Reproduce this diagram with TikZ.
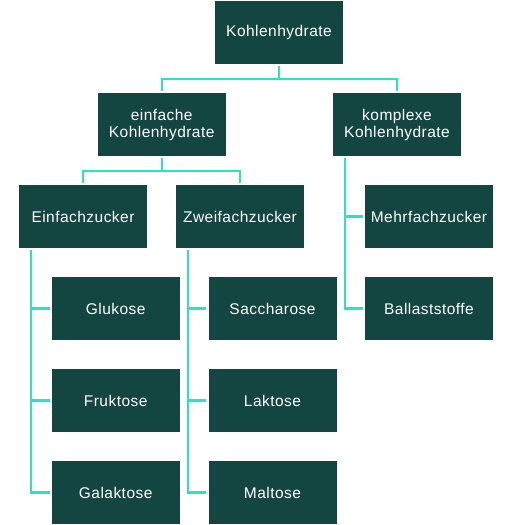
\documentclass[tikz,border=0pt]{standalone}
\usepackage{fontspec}
\setmainfont[LetterSpace=3]{Liberation Sans}
\usepackage{xcolor}
\usepackage{tikz}
\usetikzlibrary{positioning}
\definecolor{boxgreen}{HTML}{134640}
\definecolor{linkcyan}{HTML}{2AE3C7}
\tikzset{
  box/.style={fill=boxgreen, text=white, minimum width=128pt, minimum height=63pt,
    inner sep=0pt, align=center, font=\fontsize{15.5}{17}\selectfont},
  link/.style={linkcyan, line width=2.2pt, shorten <=2pt, shorten >=2pt},
  stub/.style={link, shorten <=-1pt}
}
\begin{document}
\begin{tikzpicture}[x=1pt,y=-1pt]
\def \rowgap {92}
\def \midrow {216.5}
\useasboundingbox (0,0) rectangle (510,525);
\node[box] (root) at (279,32.5) {Kohlenhydrate};
\node[box] (einf) at (161.7,124.5) {einfache\\Kohlenhydrate};
\node[box] (komp) at (397,124.5) {komplexe\\Kohlenhydrate};
\node[box] (ez) at (83,\midrow) {Einfachzucker};
\node[box] (zz) at (240,\midrow) {Zweifachzucker};
\node[box] (mz) at (429,\midrow) {Mehrfachzucker};
\foreach \name/\txt [count=\i] in {glu/Glukose, fru/Fruktose, gal/Galaktose}
  \node[box] (\name) at (115.7,{\midrow+\i*\rowgap}) {\txt};
\foreach \name/\txt [count=\i] in {sac/Saccharose, lak/Laktose, mal/Maltose}
  \node[box] (\name) at (272.5,{\midrow+\i*\rowgap}) {\txt};
\node[box] (bal) at (429,\midrow+\rowgap) {Ballaststoffe};
% tree links
\draw[link] (root.south) -- ++(0,14.5) -| (einf.north);
\draw[link] (root.south) -- ++(0,14.5) -| (komp.north);
\draw[link] (einf.south) -- ++(0,14.5) -| (ez.north);
\draw[link] (einf.south) -- ++(0,14.5) -| (zz.north);
% side links
\draw[link] ([xshift=12pt]ez.south west) |- (gal.west);
\draw[stub] ([xshift=12pt]ez.south west |- glu.west) -- (glu.west);
\draw[stub] ([xshift=12pt]ez.south west |- fru.west) -- (fru.west);
\draw[link] ([xshift=12pt]zz.south west) |- (mal.west);
\draw[stub] ([xshift=12pt]zz.south west |- sac.west) -- (sac.west);
\draw[stub] ([xshift=12pt]zz.south west |- lak.west) -- (lak.west);
\draw[link] ([xshift=12pt]komp.south west) |- (bal.west);
\draw[stub] ([xshift=12pt]komp.south west |- mz.west) -- (mz.west);
\end{tikzpicture}
\end{document}
